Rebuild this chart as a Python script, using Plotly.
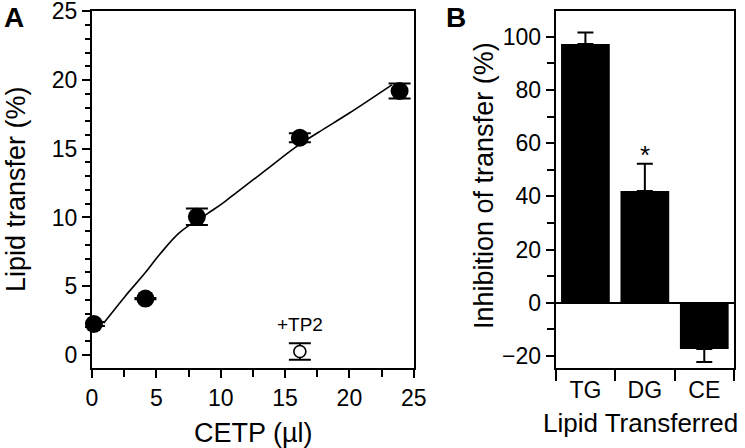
import plotly.graph_objects as go

# ---- Panel A data ----
cetp_x = [0.15, 4.15, 8.15, 16.15, 23.9]
transfer_y = [2.25, 4.1, 10.05, 15.8, 19.2]
transfer_err = [0.15, 0.05, 0.6, 0.33, 0.55]

tp2_x = [16.15]
tp2_y = [0.25]
tp2_err = [0.6]

fit_x = [0.9, 2.55, 4.1, 5.25, 6.8, 9.0, 10.14, 11.3, 13.5, 15.8, 17.6, 20.0, 23.3]
fit_y = [2.3, 4.24, 5.94, 7.3, 8.9, 10.3, 11.02, 11.87, 13.44, 15.1, 16.2, 17.6, 19.65]

# ---- Panel B data ----
lipids = ["TG", "DG", "CE"]
inhibition = [97.3, 42.0, -17.4]
inh_err_plus = [4.3, 10.3, 0.0]
inh_err_minus = [0.0, 0.0, 4.8]

W, H = 745, 448
FONT = "Liberation Sans, Arial, sans-serif"

def px(x):
    return x / W

def py(y):
    return 1 - y / H

fig = go.Figure()

fig.add_trace(go.Scatter(
    x=fit_x, y=fit_y, mode="lines", line=dict(color="black", width=1.6, shape="spline", smoothing=1.0),
    xaxis="x", yaxis="y", hoverinfo="skip", showlegend=False))

fig.add_trace(go.Scatter(
    x=cetp_x, y=transfer_y, mode="markers",
    marker=dict(color="black", size=18, symbol="circle"),
    error_y=dict(type="data", array=transfer_err, color="black", thickness=2, width=11),
    xaxis="x", yaxis="y", cliponaxis=False, showlegend=False))

fig.add_trace(go.Scatter(
    x=tp2_x, y=tp2_y, mode="markers",
    marker=dict(color="white", size=12, symbol="circle", line=dict(color="black", width=1.6)),
    error_y=dict(type="data", array=tp2_err, color="black", thickness=2, width=11),
    xaxis="x", yaxis="y", cliponaxis=False, showlegend=False))

fig.add_trace(go.Bar(
    x=lipids, y=inhibition, width=0.82,
    marker=dict(color="black", line=dict(width=0)),
    error_y=dict(type="data", symmetric=False, array=inh_err_plus, arrayminus=inh_err_minus,
                 color="black", thickness=2, width=8),
    xaxis="x2", yaxis="y2", showlegend=False))

axis_common = dict(showline=True, linecolor="black", linewidth=2, mirror=True,
                   ticks="outside", tickcolor="black", tickwidth=2, showgrid=False,
                   automargin=False,
                   tickfont=dict(family=FONT, size=23, color="black"))

fig.update_layout(
    width=W, height=H,
    margin=dict(l=0, r=0, t=0, b=0, autoexpand=False),
    paper_bgcolor="white", plot_bgcolor="white",
    font=dict(family=FONT, color="black"),
    xaxis=dict(domain=[px(92), px(414)], range=[0, 25.02], tickvals=[0, 5, 10, 15, 20, 25],
               ticklen=8, zeroline=False,
               minor=dict(dtick=2.5, tick0=0, ticklen=7, tickwidth=2, tickcolor="black", ticks="outside"),
               anchor="y", **axis_common),
    yaxis=dict(domain=[py(368), py(11)], range=[-0.95, 25.02], tickvals=[0, 5, 10, 15, 20, 25],
               ticklen=8, zeroline=False, ticklabeloverflow="allow",
               minor=dict(dtick=1, tick0=0, ticklen=5, tickwidth=2, tickcolor="black", ticks="outside"),
               anchor="x", **axis_common),
    xaxis2=dict(domain=[px(555.7), px(734)], type="category", categoryorder="array",
                categoryarray=lipids, range=[-0.5, 2.5], tickson="boundaries",
                ticklen=11, anchor="y2", **axis_common),
    yaxis2=dict(domain=[py(368), py(11)], range=[-24.5, 109.7],
                tickvals=[-20, 0, 20, 40, 60, 80, 100], ticklen=8,
                zeroline=True, zerolinecolor="black", zerolinewidth=2,
                minor=dict(dtick=10, tick0=0, ticklen=7, tickwidth=2, tickcolor="black", ticks="outside"),
                anchor="x2", **axis_common),
)

ann = []
def add_text(text, x, y, size, angle=0, bold=False, xref="paper", yref="paper"):
    ann.append(dict(text=("<b>%s</b>" % text) if bold else text, x=x, y=y, xref=xref, yref=yref,
                    showarrow=False, textangle=angle, xanchor="center", yanchor="middle",
                    font=dict(family=FONT, size=size, color="black")))

add_text("A", px(14), py(17), 28, bold=True)
add_text("B", px(456), py(17), 28, bold=True)
add_text("Lipid transfer (%)", px(16), py(189), 27, angle=-90)
add_text("CETP (µl)", px(253), py(433), 27)
add_text("Inhibition of transfer (%)", px(484), py(186), 27, angle=-90)
add_text("Lipid Transferred", px(640), py(423), 26)
add_text("+TP2", 16.15, 2.25, 19, xref="x", yref="y")
add_text("*", "DG", 55.5, 26, xref="x2", yref="y2")

fig.update_layout(annotations=ann)

fig.write_html("out.html", config={"displayModeBar": False},
               post_script="document.body.style.margin='0';document.body.style.padding='0';")
